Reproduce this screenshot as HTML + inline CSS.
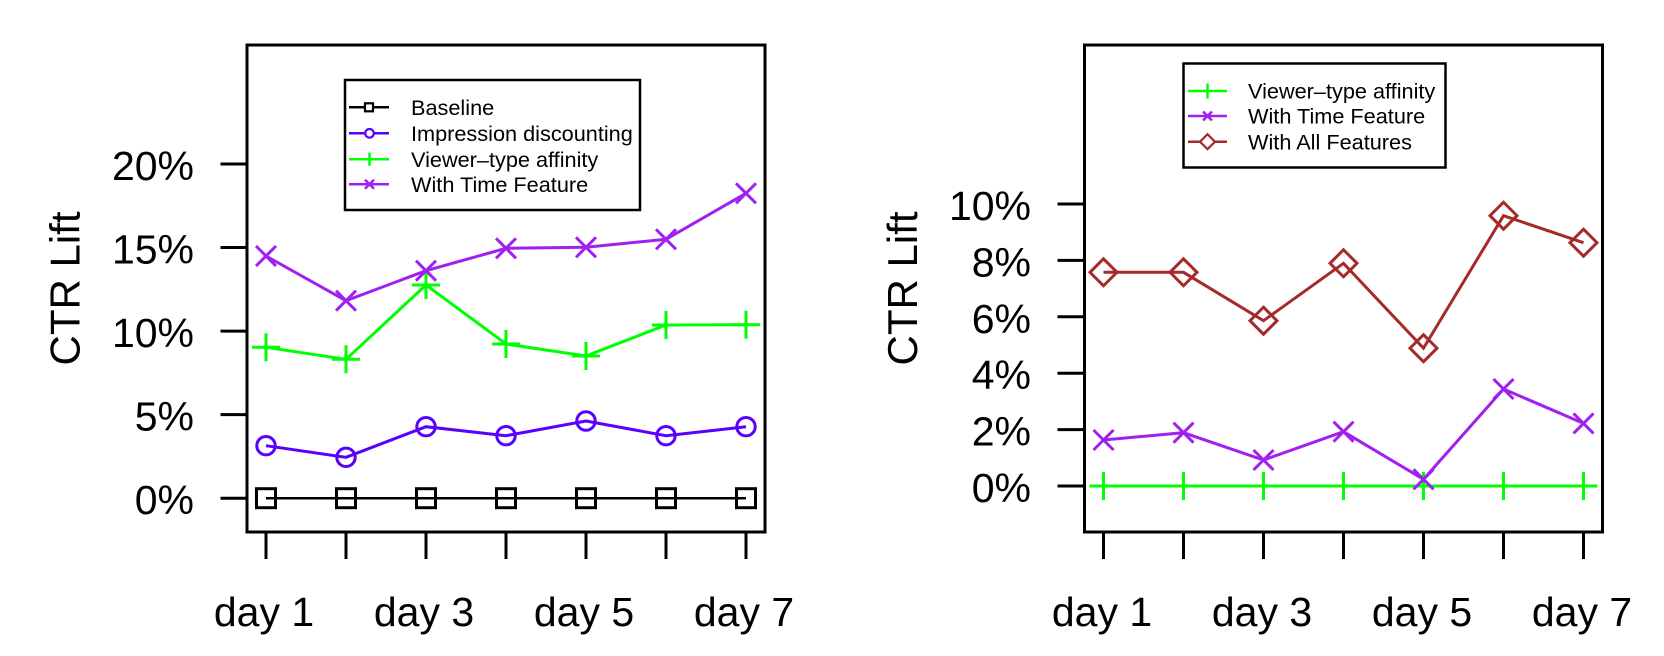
<!DOCTYPE html>
<html>
<head>
<meta charset="utf-8">
<style>
html,body{margin:0;padding:0;background:#fff;}
svg{display:block;}
text{font-family:"Liberation Sans",Arial,Helvetica,sans-serif;fill:#000;}
</style>
</head>
<body>
<svg width="1664" height="656" viewBox="0 0 1664 656" xmlns="http://www.w3.org/2000/svg">
<defs>
  <g id="sq"><rect x="-9.5" y="-9.5" width="19" height="19" fill="none" stroke-width="3"/></g>
</defs>

<!-- ================= LEFT CHART ================= -->
<g>
  <g stroke="#000" stroke-width="3">
    <line x1="220.5" y1="498.2" x2="247" y2="498.2"/>
    <line x1="220.5" y1="414.6" x2="247" y2="414.6"/>
    <line x1="220.5" y1="331.1" x2="247" y2="331.1"/>
    <line x1="220.5" y1="247.5" x2="247" y2="247.5"/>
    <line x1="220.5" y1="164" x2="247" y2="164"/>
  </g>
  <g font-size="41" text-anchor="end">
    <text x="194" y="514.2">0%</text>
    <text x="194" y="430.6">5%</text>
    <text x="194" y="347.1">10%</text>
    <text x="194" y="263.5">15%</text>
    <text x="194" y="180">20%</text>
  </g>
  <g stroke="#000" stroke-width="3">
    <line x1="266" y1="532" x2="266" y2="559"/>
    <line x1="346" y1="532" x2="346" y2="559"/>
    <line x1="426" y1="532" x2="426" y2="559"/>
    <line x1="506" y1="532" x2="506" y2="559"/>
    <line x1="586" y1="532" x2="586" y2="559"/>
    <line x1="666" y1="532" x2="666" y2="559"/>
    <line x1="746" y1="532" x2="746" y2="559"/>
  </g>
  <g font-size="41" text-anchor="middle">
    <text x="264" y="626">day 1</text>
    <text x="424" y="626">day 3</text>
    <text x="584" y="626">day 5</text>
    <text x="744" y="626">day 7</text>
  </g>
  <text font-size="42" text-anchor="middle" transform="translate(79.5,288.5) rotate(-90)">CTR Lift</text>

  <!-- Baseline -->
  <polyline fill="none" stroke="#000" stroke-width="2.5" points="266,498.2 346,498.2 426,498.2 506,498.2 586,498.2 666,498.2 746,498.2"/>
  <g stroke="#000" fill="none">
    <use href="#sq" x="266" y="498.2"/><use href="#sq" x="346" y="498.2"/><use href="#sq" x="426" y="498.2"/>
    <use href="#sq" x="506" y="498.2"/><use href="#sq" x="586" y="498.2"/><use href="#sq" x="666" y="498.2"/>
    <use href="#sq" x="746" y="498.2"/>
  </g>

  <!-- Impression discounting -->
  <polyline fill="none" stroke="#5a00ff" stroke-width="3" points="266,445.7 346,457.3 426,426.7 506,435.7 586,421 666,435.7 746,426.7"/>
  <g fill="none" stroke="#5a00ff" stroke-width="3">
    <circle cx="266" cy="445.7" r="9.2"/><circle cx="346" cy="457.3" r="9.2"/><circle cx="426" cy="426.7" r="9.2"/>
    <circle cx="506" cy="435.7" r="9.2"/><circle cx="586" cy="421" r="9.2"/><circle cx="666" cy="435.7" r="9.2"/>
    <circle cx="746" cy="426.7" r="9.2"/>
  </g>

  <!-- Viewer-type affinity -->
  <polyline fill="none" stroke="#00ff00" stroke-width="3" points="266,347.3 346,359.3 426,285 506,344 586,356 666,325 746,324.7"/>
  <path fill="none" stroke="#00ff00" stroke-width="3" d="
    M252,347.3h28M266,333.3v28
    M332,359.3h28M346,345.3v28
    M412,285h28M426,271v28
    M492,344h28M506,330v28
    M572,356h28M586,342v28
    M652,325h28M666,311v28
    M732,324.7h28M746,310.7v28"/>

  <!-- With Time Feature -->
  <polyline fill="none" stroke="#a020f0" stroke-width="3" points="266,256 346,300.7 426,270.7 506,248.3 586,247.3 666,239.3 746,193.3"/>
  <path fill="none" stroke="#a020f0" stroke-width="3" d="
    M256,246l20,20M256,266l20,-20
    M336,290.7l20,20M336,310.7l20,-20
    M416,260.7l20,20M416,280.7l20,-20
    M496,238.3l20,20M496,258.3l20,-20
    M576,237.3l20,20M576,257.3l20,-20
    M656,229.3l20,20M656,249.3l20,-20
    M736,183.3l20,20M736,203.3l20,-20"/>

  <rect x="247" y="45" width="518" height="487" fill="none" stroke="#000" stroke-width="3"/>

  <!-- legend -->
  <rect x="345" y="80" width="295" height="130" fill="#fff" stroke="#000" stroke-width="2.5"/>
  <g font-size="21.7">
    <text x="411" y="115">Baseline</text>
    <text x="411" y="141">Impression discounting</text>
    <text x="411" y="166.9">Viewer–type affinity</text>
    <text x="411" y="192">With Time Feature</text>
  </g>
  <line x1="349" y1="107.3" x2="389" y2="107.3" stroke="#000" stroke-width="2.5"/>
  <rect x="365" y="103.3" width="8" height="8" fill="#fff" stroke="#000" stroke-width="2.2"/>
  <line x1="349" y1="133.3" x2="389" y2="133.3" stroke="#5a00ff" stroke-width="2.5"/>
  <circle cx="369.5" cy="133.3" r="4.3" fill="#fff" stroke="#5a00ff" stroke-width="2.2"/>
  <line x1="349" y1="159.2" x2="389" y2="159.2" stroke="#00ff00" stroke-width="2.5"/>
  <line x1="369.5" y1="152.7" x2="369.5" y2="165.7" stroke="#00ff00" stroke-width="2.5"/>
  <line x1="349" y1="184.3" x2="389" y2="184.3" stroke="#a020f0" stroke-width="2.5"/>
  <path d="M365,179.8l9,9M365,188.8l9,-9" stroke="#a020f0" stroke-width="2.5" fill="none"/>
</g>

<!-- ================= RIGHT CHART ================= -->
<g>
  <g stroke="#000" stroke-width="3">
    <line x1="1057.5" y1="486" x2="1084.5" y2="486"/>
    <line x1="1057.5" y1="429.6" x2="1084.5" y2="429.6"/>
    <line x1="1057.5" y1="373.2" x2="1084.5" y2="373.2"/>
    <line x1="1057.5" y1="316.8" x2="1084.5" y2="316.8"/>
    <line x1="1057.5" y1="260.4" x2="1084.5" y2="260.4"/>
    <line x1="1057.5" y1="204" x2="1084.5" y2="204"/>
  </g>
  <g font-size="41" text-anchor="end">
    <text x="1031" y="502">0%</text>
    <text x="1031" y="445.6">2%</text>
    <text x="1031" y="389.2">4%</text>
    <text x="1031" y="332.8">6%</text>
    <text x="1031" y="276.4">8%</text>
    <text x="1031" y="220">10%</text>
  </g>
  <g stroke="#000" stroke-width="3">
    <line x1="1103.5" y1="532" x2="1103.5" y2="559"/>
    <line x1="1183.5" y1="532" x2="1183.5" y2="559"/>
    <line x1="1263.5" y1="532" x2="1263.5" y2="559"/>
    <line x1="1343.5" y1="532" x2="1343.5" y2="559"/>
    <line x1="1423.5" y1="532" x2="1423.5" y2="559"/>
    <line x1="1503.5" y1="532" x2="1503.5" y2="559"/>
    <line x1="1583.5" y1="532" x2="1583.5" y2="559"/>
  </g>
  <g font-size="41" text-anchor="middle">
    <text x="1102" y="626">day 1</text>
    <text x="1262" y="626">day 3</text>
    <text x="1422" y="626">day 5</text>
    <text x="1582" y="626">day 7</text>
  </g>
  <text font-size="42" text-anchor="middle" transform="translate(917,288.5) rotate(-90)">CTR Lift</text>

  <polyline fill="none" stroke="#00ff00" stroke-width="3" points="1103.5,486 1183.5,486 1263.5,486 1343.5,486 1423.5,486 1503.5,486 1583.5,486"/>
  <path fill="none" stroke="#00ff00" stroke-width="3" d="
    M1089.5,486h28M1103.5,472v28
    M1169.5,486h28M1183.5,472v28
    M1249.5,486h28M1263.5,472v28
    M1329.5,486h28M1343.5,472v28
    M1409.5,486h28M1423.5,472v28
    M1489.5,486h28M1503.5,472v28
    M1569.5,486h28M1583.5,472v28"/>

  <polyline fill="none" stroke="#a020f0" stroke-width="3" points="1103.5,440 1183.5,432.7 1263.5,460 1343.5,431.7 1423.5,479.3 1503.5,389 1583.5,423.4"/>
  <path fill="none" stroke="#a020f0" stroke-width="3" d="
    M1093.5,430l20,20M1093.5,450l20,-20
    M1173.5,422.7l20,20M1173.5,442.7l20,-20
    M1253.5,450l20,20M1253.5,470l20,-20
    M1333.5,421.7l20,20M1333.5,441.7l20,-20
    M1413.5,469.3l20,20M1413.5,489.3l20,-20
    M1493.5,379l20,20M1493.5,399l20,-20
    M1573.5,413.4l20,20M1573.5,433.4l20,-20"/>

  <polyline fill="none" stroke="#a52a2a" stroke-width="3" points="1103.5,272.3 1183.5,272.3 1263.5,320.7 1343.5,263.3 1423.5,348.2 1503.5,215.7 1583.5,242.7"/>
  <path fill="none" stroke="#a52a2a" stroke-width="3" d="
    M1103.5,258.8l13.5,13.5l-13.5,13.5l-13.5,-13.5z
    M1183.5,258.8l13.5,13.5l-13.5,13.5l-13.5,-13.5z
    M1263.5,307.2l13.5,13.5l-13.5,13.5l-13.5,-13.5z
    M1343.5,249.8l13.5,13.5l-13.5,13.5l-13.5,-13.5z
    M1423.5,334.7l13.5,13.5l-13.5,13.5l-13.5,-13.5z
    M1503.5,202.2l13.5,13.5l-13.5,13.5l-13.5,-13.5z
    M1583.5,229.2l13.5,13.5l-13.5,13.5l-13.5,-13.5z"/>

  <rect x="1084.5" y="45" width="518" height="487" fill="none" stroke="#000" stroke-width="3"/>

  <rect x="1183.5" y="63.5" width="262" height="104" fill="#fff" stroke="#000" stroke-width="2.5"/>
  <g font-size="21.7">
    <text x="1248" y="98.7">Viewer–type affinity</text>
    <text x="1248" y="123.7">With Time Feature</text>
    <text x="1248" y="149.4">With All Features</text>
  </g>
  <line x1="1188" y1="91" x2="1227" y2="91" stroke="#00ff00" stroke-width="2.5"/>
  <line x1="1207.5" y1="83.5" x2="1207.5" y2="98.5" stroke="#00ff00" stroke-width="2.5"/>
  <line x1="1188" y1="116" x2="1227" y2="116" stroke="#a020f0" stroke-width="2.5"/>
  <path d="M1203,111.5l9,9M1203,120.5l9,-9" stroke="#a020f0" stroke-width="2.5" fill="none"/>
  <line x1="1188" y1="141.7" x2="1227" y2="141.7" stroke="#a52a2a" stroke-width="2.5"/>
  <path d="M1207.5,134.2l7.5,7.5l-7.5,7.5l-7.5,-7.5z" fill="#fff" stroke="#a52a2a" stroke-width="2.2"/>
</g>
</svg>
</body>
</html>
